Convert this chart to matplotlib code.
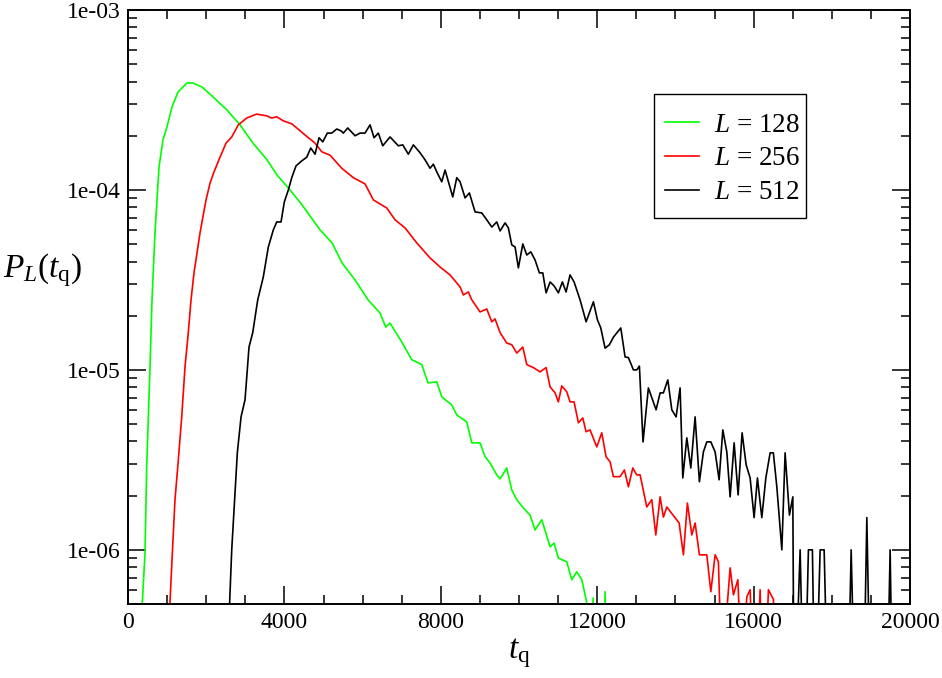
import matplotlib
matplotlib.use("Agg")
import matplotlib.pyplot as plt
from matplotlib.patches import Rectangle
from matplotlib.ticker import MultipleLocator, LogLocator, FuncFormatter, NullFormatter

plt.rcParams['font.family'] = ['Liberation Serif', 'DejaVu Serif']
plt.rcParams['mathtext.fontset'] = 'custom'
plt.rcParams['mathtext.rm'] = 'Liberation Serif'
plt.rcParams['mathtext.it'] = 'Liberation Serif:italic'

# values below 5e-7 fall under the axis (drawn as drops off the plot)
t_128 = [340, 435, 478, 563, 614, 690, 793, 895, 997, 1125, 1279, 1509, 1663, 1893,
         2174, 2532, 2865, 3197, 3555, 3811, 4144, 4451, 4911, 5218, 5474, 5807, 6139,
         6446, 6592, 6702, 7001, 7257, 7513, 7674, 7896, 8024, 8280, 8408, 8664, 8792,
         9004, 9132, 9260, 9431, 9516, 9687, 9815, 9943, 10110, 10283, 10411, 10582,
         10795, 10897, 11007, 11222, 11350, 11478, 11606, 11733, 11818, 11895, 11950,
         12150, 12202, 12260]
p_128 = [4e-7, 9.6e-7, 2.89e-6, 1.04e-5, 2.45e-5, 5.77e-5, 1.34e-4, 1.90e-4, 2.24e-4,
         2.89e-4, 3.50e-4, 3.93e-4, 3.93e-4, 3.73e-4, 3.29e-4, 2.78e-4, 2.30e-4, 1.82e-4,
         1.47e-4, 1.21e-4, 1.0e-4, 8.26e-5, 6.0e-5, 5.08e-5, 3.93e-5, 3.16e-5, 2.45e-5,
         2.07e-5, 1.73e-5, 1.82e-5, 1.43e-5, 1.14e-5, 1.07e-5, 8.47e-6, 8.58e-6, 7.08e-6,
         6.39e-6, 5.62e-6, 5.14e-6, 3.93e-6, 3.93e-6, 3.29e-6, 3.04e-6, 2.61e-6, 2.48e-6,
         2.85e-6, 2.15e-6, 1.90e-6, 1.71e-6, 1.56e-6, 1.29e-6, 1.47e-6, 1.04e-6, 1.09e-6,
         9.0e-7, 8.58e-7, 6.82e-7, 7.55e-7, 6.82e-7, 5.08e-7, 1e-7, 5.4e-7, 1e-7,
         1e-7, 5.85e-7, 1e-7]

t_256 = [1050, 1159, 1202, 1287, 1374, 1458, 1542, 1612, 1688, 1842, 1995, 2098, 2200,
         2353, 2507, 2653, 2822, 3036, 3292, 3548, 3676, 3804, 3973, 4188, 4316, 4528,
         4784, 4955, 5167, 5467, 5763, 6063, 6275, 6617, 6830, 7086, 7385, 7725, 7981,
         8237, 8493, 8577, 8705, 8792, 9004, 9176, 9304, 9388, 9516, 9687, 9815, 9943,
         10097, 10199, 10368, 10539, 10693, 10795, 10923, 11007, 11094, 11222, 11306,
         11409, 11519, 11631, 11716, 11818, 11989, 12117, 12227, 12330, 12414, 12585,
         12695, 12798, 12910, 13012, 13097, 13268, 13396, 13499, 13609, 13693, 13780,
         14095, 14205, 14307, 14420, 14504, 14614, 14803, 14906, 15016, 15100, 15187,
         15400, 15484, 15597, 15699, 15827, 15911, 16039, 16167, 16251, 16379, 16507,
         16600]
p_256 = [4e-7, 1.24e-6, 1.90e-6, 3.16e-6, 5.48e-6, 1.04e-5, 1.61e-5, 2.45e-5, 3.46e-5,
         5.77e-5, 8.80e-5, 1.09e-4, 1.26e-4, 1.52e-4, 1.82e-4, 1.97e-4, 2.30e-4, 2.51e-4,
         2.64e-4, 2.58e-4, 2.51e-4, 2.55e-4, 2.42e-4, 2.33e-4, 2.21e-4, 2.02e-4, 1.82e-4,
         1.63e-4, 1.56e-4, 1.32e-4, 1.17e-4, 1.08e-4, 8.80e-5, 7.94e-5, 6.82e-5, 6.15e-5,
         5.08e-5, 4.19e-5, 3.73e-5, 3.37e-5, 2.89e-5, 2.61e-5, 2.71e-5, 2.45e-5, 2.10e-5,
         2.18e-5, 1.85e-5, 1.92e-5, 1.61e-5, 1.41e-5, 1.38e-5, 1.24e-5, 1.34e-5, 1.07e-5,
         1.03e-5, 9.75e-6, 1.03e-5, 8.05e-6, 7.45e-6, 6.64e-6, 8.15e-6, 7.55e-6, 6.64e-6,
         6.64e-6, 5.08e-6, 5.41e-6, 4.53e-6, 4.64e-6, 3.73e-6, 4.47e-6, 3.29e-6, 3.08e-6,
         2.55e-6, 2.55e-6, 2.78e-6, 2.24e-6, 2.85e-6, 2.61e-6, 2.61e-6, 1.73e-6, 1.90e-6,
         1.21e-6, 1.97e-6, 1.52e-6, 1.73e-6, 1.41e-6, 9.38e-7, 1.82e-6, 1.21e-6, 1.41e-6,
         9.38e-7, 9.38e-7, 5.85e-7, 9.38e-7, 8.58e-7, 2e-7, 7.94e-7, 5.62e-7, 6.82e-7,
         2e-7, 5.48e-7, 6.0e-7, 1e-7, 6.0e-7, 1e-7, 6.0e-7, 5.3e-7, 1e-7]

t_512 = [2580, 2653, 2711, 2796, 2891, 2993, 3095, 3190, 3318, 3461, 3589, 3717, 3804,
         3914, 3998, 4101, 4188, 4297, 4443, 4571, 4674, 4784, 4886, 4981, 5098, 5211,
         5339, 5449, 5508, 5620, 5807, 5935, 6063, 6190, 6293, 6403, 6515, 6702, 6914,
         7027, 7170, 7298, 7469, 7597, 7725, 7810, 7897, 8024, 8109, 8306, 8408, 8493,
         8621, 8731, 8877, 9048, 9176, 9304, 9431, 9516, 9644, 9728, 9815, 9900, 9984,
         10097, 10199, 10301, 10411, 10521, 10608, 10693, 10795, 10897, 11007, 11109,
         11204, 11306, 11409, 11562, 11716, 11903, 12005, 12092, 12202, 12312, 12414,
         12603, 12713, 12798, 12926, 13012, 13079, 13172, 13309, 13506, 13609, 13693,
         13806, 13908, 14018, 14120, 14189, 14292, 14394, 14504, 14614, 14716, 14803,
         14906, 15016, 15118, 15213, 15315, 15400, 15502, 15604, 15706, 15809, 15911,
         16013, 16098, 16210, 16313, 16423, 16505, 16594, 16722, 16806, 16916, 17003,
         17036, 17190, 17293, 17402, 17504, 17574, 17702, 17804, 17914, 18400, 18495,
         18605, 18800, 18896, 18998, 19400, 19492, 19560, 19700]
p_512 = [4e-7, 1.0e-6, 1.67e-6, 3.46e-6, 5.48e-6, 6.82e-6, 1.34e-5, 1.61e-5, 2.45e-5,
         3.29e-5, 4.82e-5, 6.0e-5, 6.64e-5, 6.64e-5, 8.58e-5, 1.0e-4, 1.17e-4, 1.36e-4,
         1.45e-4, 1.52e-4, 1.71e-4, 1.58e-4, 1.95e-4, 1.85e-4, 2.07e-4, 2.07e-4, 2.18e-4,
         2.13e-4, 2.07e-4, 2.21e-4, 2.0e-4, 2.07e-4, 2.07e-4, 2.30e-4, 1.95e-4, 2.07e-4,
         1.76e-4, 1.97e-4, 1.76e-4, 1.78e-4, 1.58e-4, 1.78e-4, 1.61e-4, 1.47e-4, 1.32e-4,
         1.39e-4, 1.26e-4, 1.11e-4, 1.29e-4, 9.14e-5, 1.17e-4, 1.11e-4, 9.03e-5, 9.62e-5,
         7.55e-5, 7.45e-5, 6.82e-5, 6.22e-5, 6.64e-5, 5.92e-5, 6.56e-5, 6.15e-5, 4.95e-5,
         4.82e-5, 3.69e-5, 5.01e-5, 4.35e-5, 4.53e-5, 4.08e-5, 3.46e-5, 3.46e-5, 2.68e-5,
         3.08e-5, 2.93e-5, 2.68e-5, 3.08e-5, 2.71e-5, 3.37e-5, 3.08e-5, 2.45e-5, 1.85e-5,
         2.39e-5, 1.90e-5, 1.71e-5, 1.32e-5, 1.38e-5, 1.52e-5, 1.71e-5, 1.18e-5, 1.17e-5,
         1.0e-5, 1.0e-5, 1.05e-5, 3.98e-6, 7.94e-6, 6.0e-6, 7.45e-6, 7.45e-6, 8.80e-6,
         6.0e-6, 5.48e-6, 7.94e-6, 2.51e-6, 4.19e-6, 2.85e-6, 5.48e-6, 2.39e-6, 3.50e-6,
         3.98e-6, 3.98e-6, 3.50e-6, 2.45e-6, 4.64e-6, 3.50e-6, 1.97e-6, 3.93e-6, 2.02e-6,
         4.47e-6, 2.97e-6, 2.51e-6, 1.51e-6, 2.51e-6, 1.51e-6, 2.51e-6, 3.46e-6, 3.46e-6,
         2.24e-6, 1.0e-6, 3.46e-6, 1.56e-6, 1.97e-6, 1e-7, 1.0e-6, 1e-7, 1.0e-6, 1.0e-6,
         1e-7, 1.0e-6, 1.0e-6, 1e-7, 1e-7, 1.0e-6, 1e-7, 1e-7, 1.51e-6, 1e-7, 1e-7,
         1.0e-6, 1e-7, 1e-7]

labels = ['128', '256', '512']
colors = ['#00ff00', '#ff0000', '#000000']

fig = plt.figure(figsize=(9.42, 6.78), dpi=100)
ax = fig.add_axes([128/942, 74/678, 782/942, 594/678])

for t, p, lab, c in zip([t_128, t_256, t_512], [p_128, p_256, p_512], labels, colors):
    ax.plot(t, p, color=c, lw=1.2, label=r'$L$ = ' + lab)

ax.set_yscale('log')
ax.set_xlim(0, 20000)
ax.set_ylim(5e-7, 1e-3)

ax.xaxis.set_major_locator(MultipleLocator(4000))
ax.xaxis.set_minor_locator(MultipleLocator(1000))
ax.yaxis.set_major_locator(LogLocator(base=10, numticks=10))
ax.yaxis.set_minor_locator(LogLocator(base=10, subs=range(2, 10), numticks=20))
ax.yaxis.set_major_formatter(FuncFormatter(lambda v, pos: f"{v:.0e}"))
ax.yaxis.set_minor_formatter(NullFormatter())

ax.tick_params(which='both', direction='in', top=True, right=True, width=1.1, labelsize=17)
ax.tick_params(which='major', length=13)
ax.tick_params(which='minor', length=6.5)
ax.tick_params(axis='x', pad=6)
ax.tick_params(axis='y', pad=5)
for s in ax.spines.values():
    s.set_linewidth(1.4)

ax.set_xlabel(r'$t_\mathrm{q}$', fontsize=24, labelpad=2)
ax.set_ylabel(r'$P_L(t_\mathrm{q})$', fontsize=24, rotation=0, ha='center', va='center')
ax.yaxis.set_label_coords(-0.11, 0.562)

# legend entries without frame, box drawn separately (taller than matplotlib's padding)
leg = ax.legend(loc='upper left', bbox_to_anchor=(0.6726, 0.8452), borderaxespad=0,
                fontsize=19.5, frameon=False, handlelength=1.25, handletextpad=0.55,
                labelspacing=0.32, borderpad=0.4)
ax.add_patch(Rectangle((0.6726, 0.6498), 0.1944, 0.2088, transform=ax.transAxes,
                       fill=False, edgecolor='black', lw=1.0, zorder=5))

fig.savefig('out.png', dpi=100)
